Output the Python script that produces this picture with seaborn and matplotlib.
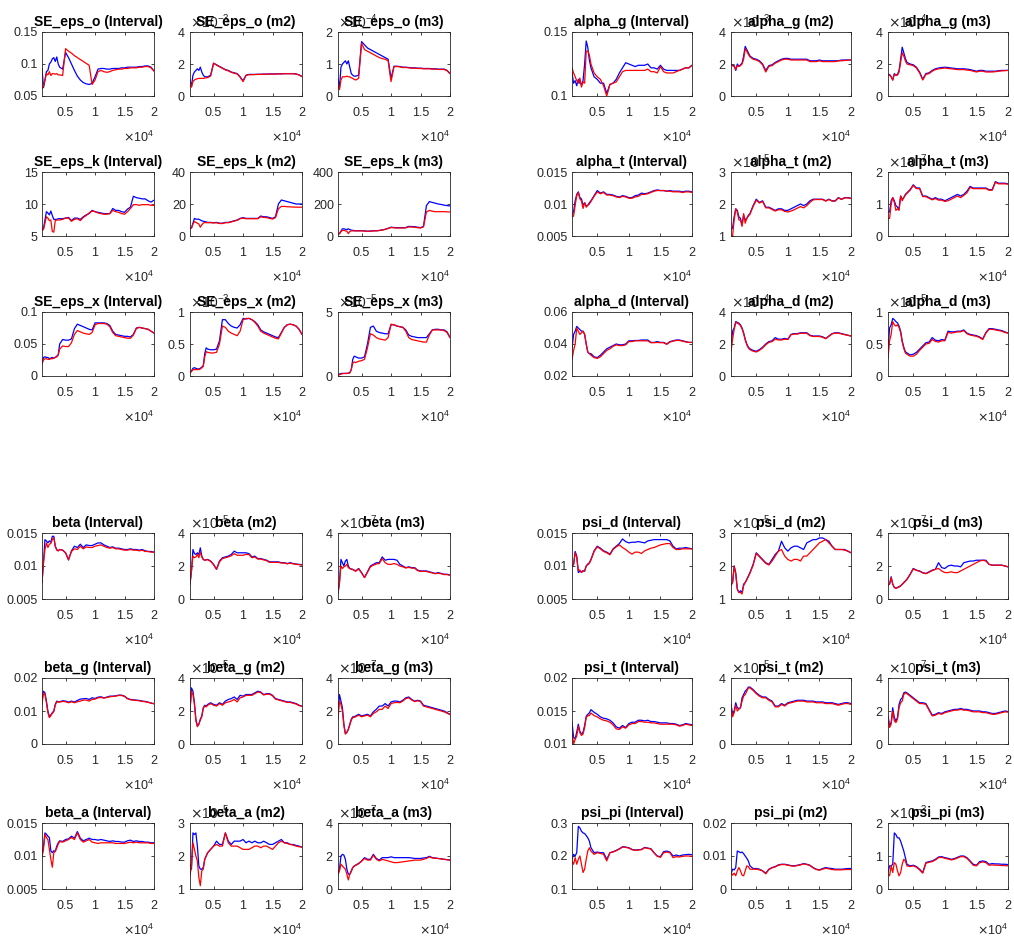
import re
import numpy as np
import pandas as pd
import matplotlib
matplotlib.use("Agg")
import matplotlib.pyplot as plt
import matplotlib.ticker as mticker
import seaborn as sns

# ---------------------------------------------------------------------------
# MCMC convergence diagnostics (Brooks & Gelman): pooled draws vs. within chains
# ---------------------------------------------------------------------------
draws = [1000, 1250, 1500, 1750, 2000, 2250, 2500, 2750, 3000, 3250, 3500, 3750, 4000,
         4500, 5000, 5500, 6000, 6500, 7000, 7500, 8000, 8500, 9000, 9500, 10000, 10500, 11000, 11500, 12000,
         12500, 13000, 13500, 14000, 14500, 15000, 15500, 16000, 16500, 17000, 17500, 18000, 18500, 19000, 19500, 20000]

# ---- SE_eps_o ----
se_eps_o_interval_pooled = [0.093, 0.063, 0.075, 0.088, 0.090, 0.100, 0.103, 0.108, 0.110, 0.104, 0.111, 0.100, 0.095,
    0.092, 0.118, 0.110, 0.100, 0.090, 0.081, 0.075, 0.071, 0.069, 0.068, 0.070, 0.080, 0.092, 0.093, 0.093, 0.092,
    0.092, 0.093, 0.093, 0.093, 0.094, 0.094, 0.095, 0.095, 0.095, 0.095, 0.096, 0.096, 0.097, 0.097, 0.095, 0.089]
se_eps_o_interval_within = [0.062, 0.065, 0.075, 0.085, 0.083, 0.088, 0.082, 0.085, 0.085, 0.084, 0.085, 0.083, 0.083,
    0.082, 0.124, 0.120, 0.117, 0.113, 0.110, 0.107, 0.104, 0.101, 0.098, 0.068, 0.075, 0.088, 0.090, 0.088, 0.087,
    0.088, 0.090, 0.091, 0.092, 0.092, 0.093, 0.093, 0.094, 0.094, 0.094, 0.095, 0.095, 0.096, 0.096, 0.094, 0.089]
se_eps_o_m2_pooled = [1.0, 0.6, 1.3, 1.5, 1.6, 1.7, 1.6, 1.8, 1.5, 1.3, 1.2, 1.2, 1.2,
    1.3, 2.05, 1.95, 1.85, 1.75, 1.65, 1.6, 1.5, 1.45, 1.4, 1.2, 0.95, 1.3, 1.35, 1.35, 1.35,
    1.36, 1.36, 1.37, 1.37, 1.38, 1.38, 1.38, 1.39, 1.39, 1.4, 1.4, 1.4, 1.4, 1.38, 1.32, 1.22]
se_eps_o_m2_within = [0.9, 0.55, 0.9, 1.0, 1.05, 1.08, 1.1, 1.1, 1.1, 1.1, 1.12, 1.14, 1.15,
    1.25, 2.05, 1.93, 1.83, 1.73, 1.63, 1.57, 1.48, 1.42, 1.38, 1.18, 0.9, 1.28, 1.33, 1.33, 1.34,
    1.35, 1.35, 1.36, 1.36, 1.37, 1.37, 1.37, 1.38, 1.38, 1.39, 1.39, 1.39, 1.39, 1.37, 1.31, 1.21]
se_eps_o_m3_pooled = [0.55, 0.25, 0.9, 1.0, 1.05, 1.1, 1.0, 1.1, 0.9, 0.7, 0.65, 0.62, 0.62,
    0.65, 1.7, 1.6, 1.5, 1.45, 1.4, 1.35, 1.3, 1.25, 1.2, 1.15, 0.55, 0.93, 0.93, 0.92, 0.9,
    0.9, 0.89, 0.88, 0.88, 0.87, 0.87, 0.86, 0.86, 0.86, 0.85, 0.85, 0.84, 0.84, 0.84, 0.8, 0.7]
se_eps_o_m3_within = [0.35, 0.2, 0.5, 0.6, 0.6, 0.6, 0.62, 0.6, 0.6, 0.57, 0.55, 0.52, 0.5,
    0.55, 1.65, 1.45, 1.4, 1.35, 1.3, 1.25, 1.2, 1.17, 1.15, 1.1, 0.45, 0.92, 0.92, 0.91, 0.89,
    0.89, 0.88, 0.87, 0.87, 0.86, 0.86, 0.85, 0.85, 0.85, 0.84, 0.84, 0.83, 0.83, 0.83, 0.79, 0.7]

# ---- SE_eps_k ----
se_eps_k_interval_pooled = [6.2, 6.2, 7.5, 8.8, 8.6, 8.3, 8.9, 8.2, 7.6, 7.6, 7.6, 7.7, 7.7,
    7.7, 7.8, 7.9, 7.4, 7.8, 7.8, 7.6, 8.0, 8.3, 8.5, 9.0, 8.8, 8.7, 8.6, 8.5, 8.5,
    8.5, 9.3, 9.0, 9.0, 8.8, 8.7, 9.2, 9.5, 11.2, 11.0, 10.9, 10.8, 10.8, 10.5, 10.3, 10.6]
se_eps_k_interval_within = [5.9, 6.0, 7.0, 8.0, 7.8, 7.4, 7.5, 5.7, 5.6, 7.4, 7.5, 7.5, 7.5,
    7.6, 7.8, 7.8, 7.3, 7.6, 7.7, 7.4, 7.9, 8.2, 8.6, 8.9, 8.8, 8.6, 8.5, 8.4, 8.4,
    8.5, 9.0, 8.8, 8.7, 8.5, 8.4, 8.8, 9.3, 9.9, 9.9, 9.8, 9.9, 9.9, 9.9, 9.8, 9.8]
se_eps_k_m2_pooled = [5, 5, 8, 11, 10.5, 10.5, 10.5, 10, 9.5, 9.2, 9, 8.8, 8.5,
    8.5, 8.3, 8.5, 8, 8, 8.5, 8.5, 9, 9.5, 10, 11, 11.5, 11, 11, 11, 11,
    11, 12.5, 12, 12, 11.5, 11, 12, 20, 22.5, 22, 21.5, 21, 20.5, 20, 20, 20]
se_eps_k_m2_within = [5, 5, 7.5, 9, 8.5, 8, 7.5, 5.5, 7, 8, 8.5, 8.3, 8.3,
    8.3, 8.2, 8.3, 7.8, 7.8, 8.3, 8.3, 8.8, 9.3, 9.8, 10.8, 11.2, 10.8, 10.8, 10.8, 10.8,
    10.8, 12, 11.6, 11.5, 11, 10.6, 11.5, 17, 18.5, 18.5, 18.3, 18.2, 18.1, 18, 18, 18]
se_eps_k_m3_pooled = [15, 15, 30, 45, 45, 42, 40, 45, 40, 37, 35, 34, 33,
    33, 33, 32, 30, 31, 33, 33, 35, 38, 42, 48, 55, 53, 52, 52, 52,
    53, 60, 59, 58, 55, 52, 60, 190, 215, 210, 205, 200, 197, 193, 190, 188]
se_eps_k_m3_within = [12, 14, 28, 35, 35, 32, 30, 15, 28, 32, 32, 32, 32,
    32, 32, 31, 29, 30, 32, 32, 34, 37, 41, 47, 53, 51, 50, 50, 50,
    51, 57, 56, 55, 52, 50, 57, 150, 160, 155, 152, 152, 152, 152, 151, 150]

# ---- SE_eps_x ----
se_eps_x_interval_pooled = [0.020, 0.029, 0.030, 0.029, 0.029, 0.027, 0.028, 0.029, 0.028, 0.029, 0.031, 0.033, 0.050,
    0.057, 0.056, 0.056, 0.058, 0.074, 0.081, 0.079, 0.077, 0.075, 0.073, 0.072, 0.083, 0.083, 0.083, 0.083, 0.082,
    0.079, 0.070, 0.065, 0.064, 0.063, 0.062, 0.062, 0.061, 0.065, 0.075, 0.076, 0.075, 0.074, 0.073, 0.070, 0.067]
se_eps_x_interval_within = [0.019, 0.025, 0.027, 0.027, 0.026, 0.026, 0.027, 0.027, 0.028, 0.029, 0.030, 0.033, 0.042,
    0.047, 0.046, 0.046, 0.052, 0.065, 0.071, 0.069, 0.067, 0.066, 0.065, 0.068, 0.080, 0.082, 0.082, 0.082, 0.081,
    0.077, 0.068, 0.063, 0.062, 0.061, 0.060, 0.059, 0.059, 0.064, 0.074, 0.076, 0.075, 0.074, 0.073, 0.070, 0.067]
se_eps_x_m2_pooled = [0.05, 0.08, 0.12, 0.13, 0.12, 0.11, 0.11, 0.12, 0.14, 0.16, 0.35, 0.44, 0.42,
    0.41, 0.41, 0.42, 0.55, 0.88, 0.88, 0.82, 0.78, 0.76, 0.75, 0.80, 0.90, 0.89, 0.90, 0.88, 0.85,
    0.80, 0.72, 0.69, 0.67, 0.65, 0.63, 0.61, 0.60, 0.68, 0.76, 0.80, 0.81, 0.80, 0.78, 0.73, 0.65]
se_eps_x_m2_within = [0.05, 0.07, 0.10, 0.10, 0.10, 0.10, 0.10, 0.11, 0.13, 0.15, 0.30, 0.38, 0.37,
    0.36, 0.36, 0.37, 0.50, 0.78, 0.76, 0.70, 0.67, 0.65, 0.63, 0.70, 0.88, 0.90, 0.90, 0.88, 0.84,
    0.78, 0.70, 0.67, 0.65, 0.63, 0.61, 0.59, 0.58, 0.67, 0.76, 0.80, 0.81, 0.80, 0.78, 0.73, 0.65]
se_eps_x_m3_pooled = [0.1, 0.15, 0.2, 0.2, 0.2, 0.2, 0.2, 0.22, 0.25, 0.5, 1.3, 1.55, 1.5,
    1.4, 1.4, 1.5, 2.5, 3.8, 3.9, 3.5, 3.4, 3.35, 3.3, 3.3, 4.0, 4.0, 3.9, 3.85, 3.8,
    3.6, 3.2, 3.1, 3.05, 3.0, 3.0, 3.0, 3.0, 3.3, 3.6, 3.65, 3.65, 3.6, 3.6, 3.45, 3.0]
se_eps_x_m3_within = [0.05, 0.1, 0.15, 0.18, 0.2, 0.2, 0.2, 0.22, 0.25, 0.5, 1.0, 1.1, 1.05,
    1.15, 1.2, 1.3, 2.2, 3.3, 3.2, 3.0, 2.9, 2.85, 2.8, 3.0, 4.05, 4.0, 3.9, 3.85, 3.8,
    3.5, 3.0, 2.85, 2.8, 2.75, 2.7, 2.65, 2.65, 3.2, 3.6, 3.6, 3.6, 3.6, 3.55, 3.4, 3.0]

# ---- alpha_g ----
alpha_g_interval_pooled = [0.118, 0.110, 0.112, 0.108, 0.113, 0.110, 0.109, 0.112, 0.125, 0.143, 0.138, 0.128, 0.122,
    0.115, 0.113, 0.110, 0.110, 0.102, 0.109, 0.110, 0.113, 0.118, 0.122, 0.126, 0.125, 0.124, 0.123, 0.124, 0.124,
    0.124, 0.125, 0.122, 0.122, 0.121, 0.124, 0.121, 0.120, 0.120, 0.120, 0.120, 0.120, 0.121, 0.122, 0.122, 0.124]
alpha_g_interval_within = [0.122, 0.118, 0.115, 0.112, 0.110, 0.114, 0.107, 0.111, 0.110, 0.135, 0.135, 0.132, 0.125,
    0.118, 0.115, 0.113, 0.108, 0.100, 0.109, 0.110, 0.111, 0.115, 0.119, 0.120, 0.120, 0.120, 0.120, 0.120, 0.120,
    0.120, 0.121, 0.119, 0.119, 0.118, 0.123, 0.119, 0.118, 0.118, 0.118, 0.119, 0.120, 0.121, 0.122, 0.122, 0.124]
alpha_g_m2_pooled = [1.95, 1.9, 1.9, 1.6, 2.0, 1.85, 1.95, 2.05, 2.5, 3.1, 2.9, 2.7, 2.5,
    2.35, 2.3, 2.2, 2.0, 1.6, 1.9, 1.95, 2.1, 2.2, 2.3, 2.35, 2.35, 2.3, 2.3, 2.3, 2.3,
    2.3, 2.3, 2.2, 2.2, 2.2, 2.25, 2.2, 2.2, 2.2, 2.2, 2.2, 2.2, 2.25, 2.25, 2.25, 2.25]
alpha_g_m2_within = [1.95, 1.9, 1.85, 1.65, 1.9, 1.85, 1.9, 2.0, 2.3, 2.95, 2.8, 2.6, 2.45,
    2.3, 2.25, 2.15, 1.95, 1.5, 1.85, 1.9, 2.05, 2.15, 2.25, 2.3, 2.3, 2.25, 2.25, 2.25, 2.25,
    2.25, 2.25, 2.15, 2.15, 2.15, 2.2, 2.15, 2.15, 2.15, 2.15, 2.15, 2.2, 2.2, 2.22, 2.23, 2.25]
alpha_g_m3_pooled = [1.3, 1.35, 1.2, 1.0, 1.4, 1.3, 1.35, 1.6, 2.3, 3.05, 2.7, 2.35, 2.1,
    2.0, 1.95, 1.8, 1.5, 1.05, 1.4, 1.45, 1.6, 1.7, 1.75, 1.78, 1.8, 1.78, 1.75, 1.73, 1.7,
    1.7, 1.7, 1.68, 1.65, 1.6, 1.55, 1.6, 1.6, 1.55, 1.55, 1.55, 1.55, 1.58, 1.6, 1.6, 1.6]
alpha_g_m3_within = [1.35, 1.3, 1.2, 1.0, 1.35, 1.3, 1.3, 1.5, 2.1, 2.7, 2.5, 2.2, 2.0,
    1.95, 1.9, 1.75, 1.45, 1.0, 1.35, 1.4, 1.55, 1.65, 1.7, 1.72, 1.75, 1.72, 1.7, 1.68, 1.65,
    1.65, 1.65, 1.62, 1.6, 1.55, 1.5, 1.55, 1.55, 1.5, 1.5, 1.5, 1.52, 1.55, 1.57, 1.58, 1.6]

# ---- alpha_t ----
alpha_t_interval_pooled = [0.0083, 0.0088, 0.0105, 0.0115, 0.0119, 0.0110, 0.0108, 0.0098, 0.0102, 0.0097, 0.0098, 0.0102, 0.0105,
    0.0113, 0.0121, 0.0117, 0.0119, 0.0115, 0.0115, 0.0114, 0.0112, 0.0111, 0.0113, 0.0112, 0.0110, 0.0110, 0.0113, 0.0114, 0.0117,
    0.0116, 0.0117, 0.0119, 0.0121, 0.0122, 0.0121, 0.0121, 0.0120, 0.0121, 0.0120, 0.0120, 0.0120, 0.0119, 0.0120, 0.0120, 0.0119]
alpha_t_interval_within = [0.0080, 0.0081, 0.0098, 0.0113, 0.0118, 0.0108, 0.0105, 0.0093, 0.0102, 0.0095, 0.0098, 0.0100, 0.0104,
    0.0112, 0.0119, 0.0116, 0.0118, 0.0114, 0.0114, 0.0113, 0.0111, 0.0110, 0.0112, 0.0111, 0.0109, 0.0109, 0.0111, 0.0112, 0.0115,
    0.0115, 0.0116, 0.0118, 0.0120, 0.0121, 0.0121, 0.0121, 0.0120, 0.0120, 0.0119, 0.0119, 0.0119, 0.0118, 0.0119, 0.0119, 0.0118]
alpha_t_m2_pooled = [1.2, 1.25, 1.6, 1.85, 1.8, 1.6, 1.55, 1.35, 1.65, 1.5, 1.55, 1.65, 1.7,
    1.95, 2.15, 2.05, 2.1, 1.9, 1.9, 1.85, 1.8, 1.85, 1.85, 1.8, 1.8, 1.85, 1.9, 1.95, 2.0,
    1.95, 2.0, 2.1, 2.15, 2.15, 2.15, 2.15, 2.1, 2.15, 2.1, 2.1, 2.2, 2.15, 2.2, 2.2, 2.18]
alpha_t_m2_within = [1.0, 1.0, 1.5, 1.85, 1.75, 1.5, 1.5, 1.3, 1.7, 1.4, 1.55, 1.62, 1.68,
    1.92, 2.12, 2.03, 2.08, 1.88, 1.88, 1.83, 1.78, 1.82, 1.82, 1.77, 1.75, 1.78, 1.82, 1.87, 1.92,
    1.88, 1.95, 2.05, 2.13, 2.14, 2.14, 2.14, 2.09, 2.14, 2.09, 2.09, 2.19, 2.14, 2.19, 2.19, 2.17]
alpha_t_m3_pooled = [0.75, 0.75, 1.1, 1.2, 1.1, 0.95, 0.9, 0.85, 1.25, 1.15, 1.2, 1.3, 1.35,
    1.45, 1.6, 1.5, 1.5, 1.25, 1.25, 1.2, 1.15, 1.2, 1.15, 1.15, 1.1, 1.15, 1.2, 1.25, 1.3,
    1.25, 1.3, 1.4, 1.55, 1.5, 1.5, 1.5, 1.5, 1.5, 1.45, 1.45, 1.7, 1.65, 1.65, 1.65, 1.63]
alpha_t_m3_within = [0.55, 0.55, 1.0, 1.2, 1.05, 0.8, 0.85, 0.8, 1.25, 1.1, 1.2, 1.28, 1.33,
    1.43, 1.58, 1.48, 1.48, 1.23, 1.23, 1.18, 1.13, 1.17, 1.12, 1.12, 1.08, 1.1, 1.15, 1.2, 1.25,
    1.2, 1.27, 1.35, 1.52, 1.48, 1.48, 1.48, 1.48, 1.48, 1.43, 1.43, 1.68, 1.63, 1.63, 1.63, 1.62]

# ---- alpha_d ----
alpha_d_interval_pooled = [0.037, 0.046, 0.048, 0.051, 0.050, 0.049, 0.048, 0.048, 0.046, 0.040, 0.035, 0.034, 0.034,
    0.032, 0.0315, 0.033, 0.035, 0.037, 0.038, 0.039, 0.040, 0.0395, 0.0395, 0.040, 0.042, 0.042, 0.0422, 0.0422, 0.0425,
    0.0425, 0.0425, 0.041, 0.041, 0.0415, 0.041, 0.041, 0.040, 0.0415, 0.042, 0.0425, 0.0425, 0.042, 0.0415, 0.041, 0.041]
alpha_d_interval_within = [0.030, 0.036, 0.040, 0.050, 0.048, 0.046, 0.047, 0.048, 0.046, 0.040, 0.035, 0.034, 0.033,
    0.0315, 0.031, 0.032, 0.034, 0.036, 0.037, 0.0385, 0.0395, 0.039, 0.039, 0.0395, 0.0415, 0.0415, 0.042, 0.042, 0.042,
    0.042, 0.042, 0.0408, 0.0408, 0.041, 0.0408, 0.0408, 0.0398, 0.0412, 0.0418, 0.0422, 0.0422, 0.0418, 0.0413, 0.041, 0.041]
alpha_d_m2_pooled = [1.8, 2.8, 3.0, 3.4, 3.35, 3.3, 3.2, 3.0, 2.7, 2.3, 2.0, 1.8, 1.7,
    1.6, 1.55, 1.65, 1.8, 2.0, 2.15, 2.2, 2.4, 2.3, 2.3, 2.35, 2.3, 2.6, 2.65, 2.65, 2.7,
    2.7, 2.7, 2.55, 2.5, 2.5, 2.5, 2.45, 2.35, 2.5, 2.65, 2.7, 2.7, 2.65, 2.6, 2.55, 2.5]
alpha_d_m2_within = [1.5, 2.3, 2.9, 3.35, 3.3, 3.25, 3.15, 2.95, 2.65, 2.25, 1.95, 1.75, 1.65,
    1.55, 1.5, 1.6, 1.75, 1.95, 2.1, 2.15, 2.3, 2.25, 2.25, 2.3, 2.28, 2.58, 2.62, 2.62, 2.67,
    2.67, 2.67, 2.52, 2.47, 2.47, 2.47, 2.42, 2.33, 2.48, 2.63, 2.68, 2.68, 2.63, 2.58, 2.54, 2.5]
alpha_d_m3_pooled = [0.4, 0.75, 0.8, 0.9, 0.88, 0.85, 0.83, 0.78, 0.7, 0.55, 0.45, 0.38, 0.36,
    0.33, 0.34, 0.37, 0.42, 0.47, 0.52, 0.53, 0.6, 0.56, 0.55, 0.57, 0.56, 0.7, 0.69, 0.69, 0.7,
    0.7, 0.72, 0.67, 0.65, 0.64, 0.63, 0.61, 0.58, 0.68, 0.74, 0.74, 0.73, 0.72, 0.71, 0.69, 0.67]
alpha_d_m3_within = [0.27, 0.55, 0.65, 0.85, 0.8, 0.78, 0.8, 0.76, 0.68, 0.53, 0.43, 0.36, 0.34,
    0.31, 0.31, 0.34, 0.4, 0.45, 0.5, 0.51, 0.57, 0.54, 0.53, 0.55, 0.55, 0.68, 0.67, 0.68, 0.69,
    0.69, 0.71, 0.66, 0.64, 0.63, 0.62, 0.6, 0.57, 0.67, 0.73, 0.73, 0.72, 0.71, 0.7, 0.68, 0.67]

# ---- beta ----
beta_interval_pooled = [0.0075, 0.0105, 0.0140, 0.0138, 0.0135, 0.0138, 0.0136, 0.0145, 0.0145, 0.0130, 0.0125, 0.0123, 0.0125,
    0.0124, 0.0120, 0.0109, 0.0123, 0.0130, 0.0128, 0.0133, 0.0128, 0.0132, 0.0131, 0.0131, 0.0133, 0.0135, 0.0135, 0.0132, 0.0130,
    0.0128, 0.0129, 0.0127, 0.0127, 0.0126, 0.0125, 0.0125, 0.0126, 0.0125, 0.0125, 0.0124, 0.0125, 0.0123, 0.0122, 0.0122, 0.0121]
beta_interval_within = [0.0075, 0.0105, 0.0125, 0.0135, 0.0128, 0.0133, 0.0134, 0.0140, 0.0143, 0.0130, 0.0124, 0.0123, 0.0125,
    0.0124, 0.0120, 0.0110, 0.0122, 0.0126, 0.0125, 0.0130, 0.0126, 0.0129, 0.0128, 0.0128, 0.0130, 0.0131, 0.0132, 0.0130, 0.0128,
    0.0127, 0.0128, 0.0126, 0.0126, 0.0125, 0.0124, 0.0124, 0.0125, 0.0124, 0.0124, 0.0123, 0.0124, 0.0122, 0.0122, 0.0121, 0.0121]
beta_m2_pooled = [0.9, 1.7, 3.0, 2.75, 2.7, 2.8, 2.7, 3.1, 2.6, 2.4, 2.35, 2.38, 2.4,
    2.3, 2.1, 1.8, 2.3, 2.5, 2.55, 2.6, 2.7, 2.9, 2.8, 2.8, 2.8, 2.8, 2.75, 2.55, 2.6,
    2.45, 2.45, 2.4, 2.35, 2.25, 2.25, 2.25, 2.25, 2.2, 2.2, 2.15, 2.2, 2.15, 2.12, 2.1, 2.08]
beta_m2_within = [0.9, 1.7, 2.6, 2.5, 2.55, 2.7, 2.5, 2.85, 2.55, 2.4, 2.35, 2.37, 2.38,
    2.28, 2.08, 1.8, 2.25, 2.45, 2.5, 2.55, 2.62, 2.75, 2.65, 2.65, 2.65, 2.7, 2.7, 2.5, 2.55,
    2.42, 2.42, 2.37, 2.32, 2.22, 2.22, 2.22, 2.22, 2.18, 2.18, 2.13, 2.17, 2.13, 2.1, 2.08, 2.06]
beta_m3_pooled = [0.35, 1.0, 2.4, 2.2, 2.0, 2.3, 2.4, 2.0, 1.85, 1.82, 1.8, 1.75, 1.7,
    1.85, 1.6, 1.3, 1.65, 2.0, 2.1, 2.2, 2.2, 2.55, 2.35, 2.4, 2.4, 2.4, 2.35, 2.1, 2.0,
    1.9, 1.95, 1.9, 1.9, 1.75, 1.7, 1.7, 1.7, 1.65, 1.6, 1.55, 1.6, 1.55, 1.5, 1.5, 1.45]
beta_m3_within = [0.35, 1.0, 2.0, 1.85, 1.95, 2.0, 2.1, 1.9, 1.85, 1.8, 1.78, 1.73, 1.68,
    1.82, 1.58, 1.3, 1.62, 1.95, 2.05, 2.12, 2.15, 2.45, 2.2, 2.1, 2.1, 2.15, 2.1, 2.0, 1.95,
    1.88, 1.92, 1.87, 1.87, 1.72, 1.67, 1.68, 1.67, 1.62, 1.58, 1.53, 1.57, 1.53, 1.48, 1.48, 1.44]

# ---- beta_g ----
beta_g_interval_pooled = [0.0130, 0.0160, 0.0155, 0.0130, 0.0100, 0.0083, 0.0088, 0.0095, 0.0100, 0.0120, 0.0130, 0.0128, 0.0128,
    0.0131, 0.0130, 0.0127, 0.0130, 0.0127, 0.0132, 0.0136, 0.0137, 0.0138, 0.0135, 0.0140, 0.0138, 0.0142, 0.0143, 0.0140, 0.0142,
    0.0145, 0.0145, 0.0146, 0.0148, 0.0148, 0.0145, 0.0138, 0.0135, 0.0134, 0.0133, 0.0132, 0.0130, 0.0129, 0.0127, 0.0124, 0.0122]
beta_g_interval_within = [0.0120, 0.0155, 0.0150, 0.0125, 0.0095, 0.0080, 0.0086, 0.0093, 0.0098, 0.0118, 0.0128, 0.0127, 0.0127,
    0.0129, 0.0128, 0.0125, 0.0128, 0.0125, 0.0128, 0.0130, 0.0133, 0.0133, 0.0130, 0.0135, 0.0136, 0.0140, 0.0141, 0.0139, 0.0141,
    0.0143, 0.0144, 0.0145, 0.0147, 0.0147, 0.0144, 0.0137, 0.0134, 0.0133, 0.0132, 0.0131, 0.0129, 0.0128, 0.0126, 0.0124, 0.0122]
beta_g_m2_pooled = [2.0, 3.4, 3.2, 2.5, 1.5, 1.1, 1.2, 1.5, 1.7, 2.2, 2.35, 2.3, 2.4,
    2.5, 2.4, 2.35, 2.5, 2.4, 2.6, 2.7, 2.75, 2.85, 2.7, 2.95, 2.9, 3.0, 3.0, 3.0, 3.1,
    3.2, 3.15, 3.0, 3.05, 3.05, 2.95, 2.75, 2.7, 2.65, 2.6, 2.55, 2.55, 2.5, 2.45, 2.35, 2.3]
beta_g_m2_within = [2.1, 3.2, 3.0, 2.4, 1.4, 1.05, 1.2, 1.45, 1.65, 2.15, 2.3, 2.25, 2.35,
    2.45, 2.35, 2.3, 2.45, 2.35, 2.5, 2.55, 2.6, 2.7, 2.55, 2.8, 2.85, 2.95, 2.95, 2.95, 3.05,
    3.15, 3.12, 2.97, 3.02, 3.02, 2.92, 2.72, 2.67, 2.62, 2.57, 2.52, 2.52, 2.47, 2.42, 2.33, 2.28]
beta_g_m3_pooled = [1.8, 3.0, 2.6, 2.2, 1.2, 0.65, 0.7, 0.9, 1.2, 1.5, 1.65, 1.65, 1.7,
    1.8, 1.7, 1.75, 1.8, 1.7, 1.95, 2.1, 2.3, 2.3, 2.45, 2.3, 2.55, 2.6, 2.6, 2.55, 2.65,
    2.8, 2.85, 2.7, 2.6, 2.65, 2.6, 2.35, 2.3, 2.25, 2.2, 2.15, 2.1, 2.05, 2.0, 1.9, 1.8]
beta_g_m3_within = [1.5, 2.6, 2.4, 2.0, 1.1, 0.6, 0.7, 0.88, 1.15, 1.45, 1.6, 1.62, 1.65,
    1.75, 1.65, 1.7, 1.75, 1.65, 1.85, 1.95, 2.1, 2.1, 2.3, 2.15, 2.45, 2.5, 2.52, 2.5, 2.6,
    2.75, 2.8, 2.67, 2.57, 2.62, 2.57, 2.3, 2.25, 2.2, 2.15, 2.1, 2.05, 2.0, 1.95, 1.87, 1.78]

# ---- beta_a ----
beta_a_interval_pooled = [0.0103, 0.0115, 0.0135, 0.0133, 0.0130, 0.0128, 0.0108, 0.0105, 0.0108, 0.0107, 0.0115, 0.0120, 0.0123,
    0.0122, 0.0125, 0.0126, 0.0130, 0.0127, 0.0137, 0.0127, 0.0123, 0.0125, 0.0127, 0.0125, 0.0125, 0.0124, 0.0125, 0.0124, 0.0123,
    0.0122, 0.0123, 0.0122, 0.0122, 0.0121, 0.0121, 0.0123, 0.0124, 0.0122, 0.0123, 0.0122, 0.0122, 0.0121, 0.0121, 0.0120, 0.0120]
beta_a_interval_within = [0.0098, 0.0110, 0.0133, 0.0128, 0.0125, 0.0110, 0.0095, 0.0083, 0.0105, 0.0107, 0.0112, 0.0118, 0.0122,
    0.0121, 0.0123, 0.0125, 0.0128, 0.0125, 0.0135, 0.0125, 0.0121, 0.0123, 0.0125, 0.0121, 0.0120, 0.0119, 0.0120, 0.0120, 0.0120,
    0.0120, 0.0120, 0.0119, 0.0119, 0.0119, 0.0119, 0.0120, 0.0121, 0.0120, 0.0121, 0.0120, 0.0120, 0.0120, 0.0120, 0.0119, 0.0119]
beta_a_m2_pooled = [1.75, 1.6, 2.7, 2.65, 2.7, 2.3, 1.7, 1.6, 1.6, 1.65, 1.9, 2.0, 2.1,
    2.2, 2.3, 2.45, 2.35, 2.35, 2.7, 2.45, 2.35, 2.45, 2.45, 2.45, 2.5, 2.4, 2.45, 2.4, 2.45,
    2.4, 2.4, 2.45, 2.4, 2.35, 2.35, 2.4, 2.45, 2.5, 2.4, 2.4, 2.35, 2.35, 2.32, 2.3, 2.27]
beta_a_m2_within = [1.4, 1.7, 2.4, 2.2, 2.0, 1.85, 1.35, 1.1, 1.55, 1.6, 1.9, 2.0, 2.1,
    2.2, 2.3, 2.35, 2.3, 2.3, 2.7, 2.4, 2.3, 2.3, 2.3, 2.25, 2.2, 2.2, 2.2, 2.25, 2.3,
    2.3, 2.25, 2.3, 2.3, 2.25, 2.2, 2.3, 2.4, 2.45, 2.4, 2.38, 2.35, 2.33, 2.3, 2.28, 2.27]
beta_a_m3_pooled = [1.0, 1.2, 2.0, 2.1, 2.05, 1.8, 1.2, 0.9, 0.9, 1.1, 1.3, 1.4, 1.45,
    1.55, 1.7, 1.9, 1.8, 1.8, 2.1, 1.85, 1.75, 1.9, 1.9, 1.9, 1.95, 1.9, 1.9, 1.9, 1.9,
    1.9, 1.9, 1.88, 1.85, 1.85, 1.85, 1.88, 1.9, 1.98, 1.9, 1.88, 1.85, 1.83, 1.8, 1.78, 1.75]
beta_a_m3_within = [0.85, 1.1, 1.5, 1.4, 1.3, 1.2, 0.9, 0.55, 0.9, 1.05, 1.3, 1.38, 1.43,
    1.53, 1.68, 1.85, 1.75, 1.75, 2.05, 1.8, 1.7, 1.8, 1.75, 1.7, 1.65, 1.6, 1.6, 1.62, 1.65,
    1.67, 1.7, 1.72, 1.75, 1.75, 1.75, 1.8, 1.85, 1.95, 1.88, 1.86, 1.85, 1.82, 1.8, 1.77, 1.75]

# ---- psi_d ----
psi_d_interval_pooled = [0.0100, 0.0102, 0.0122, 0.0115, 0.0090, 0.0092, 0.0091, 0.0093, 0.0092, 0.0100, 0.0103, 0.0105, 0.0110,
    0.0123, 0.0130, 0.0127, 0.0123, 0.0121, 0.0118, 0.0126, 0.0130, 0.0134, 0.0141, 0.0137, 0.0135, 0.0136, 0.0136, 0.0137, 0.0136,
    0.0135, 0.0138, 0.0139, 0.0140, 0.0140, 0.0140, 0.0140, 0.0140, 0.0138, 0.0130, 0.0126, 0.0127, 0.0127, 0.0128, 0.0127, 0.0126]
psi_d_interval_within = [0.0100, 0.0103, 0.0120, 0.0113, 0.0093, 0.0094, 0.0090, 0.0092, 0.0093, 0.0100, 0.0102, 0.0104, 0.0109,
    0.0122, 0.0129, 0.0126, 0.0122, 0.0120, 0.0117, 0.0125, 0.0129, 0.0132, 0.0128, 0.0125, 0.0121, 0.0118, 0.0121, 0.0121, 0.0119,
    0.0123, 0.0125, 0.0127, 0.0128, 0.0130, 0.0132, 0.0133, 0.0134, 0.0134, 0.0128, 0.0125, 0.0125, 0.0126, 0.0126, 0.0126, 0.0126]
psi_d_m2_pooled = [1.45, 1.5, 2.0, 1.8, 1.3, 1.2, 1.25, 1.2, 1.45, 1.5, 1.6, 1.7, 1.8,
    2.05, 2.4, 2.3, 2.2, 2.1, 2.05, 2.2, 2.35, 2.45, 2.75, 2.55, 2.45, 2.55, 2.6, 2.6, 2.55,
    2.5, 2.7, 2.75, 2.8, 2.8, 2.85, 2.85, 2.8, 2.75, 2.6, 2.5, 2.5, 2.5, 2.5, 2.45, 2.4]
psi_d_m2_within = [1.4, 1.5, 2.0, 1.75, 1.3, 1.2, 1.2, 1.15, 1.4, 1.5, 1.58, 1.68, 1.78,
    2.02, 2.38, 2.28, 2.18, 2.08, 2.03, 2.15, 2.3, 2.45, 2.5, 2.3, 2.2, 2.15, 2.2, 2.2, 2.15,
    2.3, 2.3, 2.4, 2.5, 2.6, 2.7, 2.75, 2.8, 2.7, 2.6, 2.5, 2.5, 2.5, 2.48, 2.45, 2.4]
psi_d_m3_pooled = [0.85, 0.9, 1.35, 0.9, 0.7, 0.65, 0.7, 0.75, 0.8, 0.9, 1.0, 1.1, 1.2,
    1.5, 1.85, 1.75, 1.7, 1.6, 1.55, 1.65, 1.75, 1.8, 2.2, 1.9, 1.85, 2.0, 2.05, 2.0, 2.0,
    1.95, 2.2, 2.25, 2.3, 2.3, 2.35, 2.35, 2.35, 2.35, 2.1, 2.05, 2.05, 2.05, 2.05, 2.0, 1.95]
psi_d_m3_within = [0.85, 0.9, 1.3, 0.9, 0.7, 0.65, 0.68, 0.72, 0.8, 0.88, 0.98, 1.08, 1.18,
    1.48, 1.83, 1.73, 1.68, 1.58, 1.53, 1.62, 1.72, 1.8, 1.85, 1.7, 1.6, 1.6, 1.65, 1.6, 1.6,
    1.7, 1.8, 1.9, 2.0, 2.1, 2.2, 2.3, 2.35, 2.3, 2.1, 2.05, 2.05, 2.05, 2.05, 2.0, 1.95]

# ---- psi_t ----
psi_t_interval_pooled = [0.0133, 0.0110, 0.0108, 0.0118, 0.0130, 0.0119, 0.0115, 0.0118, 0.0128, 0.0142, 0.0145, 0.0147, 0.0152,
    0.0148, 0.0145, 0.0141, 0.0139, 0.0138, 0.0136, 0.0132, 0.0126, 0.0124, 0.0128, 0.0125, 0.0131, 0.0133, 0.0133, 0.0136, 0.0136,
    0.0135, 0.0136, 0.0134, 0.0134, 0.0133, 0.0132, 0.0132, 0.0132, 0.0131, 0.0131, 0.0130, 0.0128, 0.0129, 0.0131, 0.0130, 0.0129]
psi_t_interval_within = [0.0120, 0.0100, 0.0107, 0.0112, 0.0127, 0.0117, 0.0113, 0.0115, 0.0125, 0.0140, 0.0143, 0.0143, 0.0147,
    0.0143, 0.0141, 0.0138, 0.0136, 0.0135, 0.0133, 0.0129, 0.0123, 0.0122, 0.0126, 0.0124, 0.0129, 0.0131, 0.0131, 0.0134, 0.0134,
    0.0133, 0.0133, 0.0132, 0.0132, 0.0131, 0.0130, 0.0130, 0.0130, 0.0130, 0.0130, 0.0129, 0.0127, 0.0128, 0.0130, 0.0129, 0.0128]
psi_t_m2_pooled = [2.4, 1.75, 2.0, 2.5, 2.2, 2.15, 2.2, 2.8, 3.0, 3.2, 3.3, 3.45, 3.45,
    3.3, 3.1, 2.95, 2.85, 2.85, 2.7, 2.6, 2.3, 2.3, 2.45, 2.35, 2.5, 2.55, 2.6, 2.65, 2.65,
    2.65, 2.6, 2.6, 2.6, 2.55, 2.55, 2.55, 2.5, 2.5, 2.5, 2.45, 2.4, 2.45, 2.5, 2.5, 2.45]
psi_t_m2_within = [2.4, 1.65, 1.9, 2.35, 2.0, 2.1, 2.2, 2.6, 2.9, 3.0, 3.2, 3.4, 3.4,
    3.25, 3.05, 2.9, 2.8, 2.8, 2.65, 2.55, 2.25, 2.25, 2.4, 2.3, 2.45, 2.5, 2.55, 2.6, 2.6,
    2.6, 2.55, 2.55, 2.55, 2.5, 2.5, 2.5, 2.45, 2.45, 2.45, 2.4, 2.35, 2.4, 2.45, 2.45, 2.4]
psi_t_m3_pooled = [1.7, 1.1, 1.3, 2.2, 1.6, 1.4, 1.6, 2.4, 2.7, 2.8, 3.1, 3.15, 3.1,
    2.95, 2.8, 2.65, 2.5, 2.5, 2.45, 2.1, 1.75, 1.8, 1.9, 1.85, 1.95, 2.0, 2.05, 2.1, 2.1,
    2.15, 2.1, 2.1, 2.05, 2.0, 2.0, 2.0, 1.95, 1.95, 1.9, 1.85, 1.85, 1.9, 1.95, 2.0, 1.97]
psi_t_m3_within = [1.65, 1.0, 1.2, 2.0, 1.4, 1.3, 1.5, 2.2, 2.5, 2.6, 3.0, 3.1, 3.05,
    2.9, 2.75, 2.6, 2.45, 2.45, 2.4, 2.05, 1.7, 1.75, 1.85, 1.8, 1.9, 1.95, 2.0, 2.05, 2.05,
    2.1, 2.05, 2.05, 2.0, 1.95, 1.95, 1.95, 1.9, 1.9, 1.85, 1.8, 1.8, 1.85, 1.9, 1.95, 1.93]

# ---- psi_pi ----
psi_pi_interval_pooled = [0.190, 0.205, 0.200, 0.210, 0.290, 0.285, 0.275, 0.270, 0.268, 0.262, 0.255, 0.245, 0.225,
    0.210, 0.212, 0.210, 0.210, 0.190, 0.210, 0.213, 0.217, 0.222, 0.228, 0.227, 0.225, 0.220, 0.218, 0.219, 0.220,
    0.226, 0.224, 0.222, 0.210, 0.200, 0.198, 0.213, 0.215, 0.212, 0.200, 0.203, 0.200, 0.203, 0.204, 0.205, 0.204]
psi_pi_interval_within = [0.185, 0.175, 0.195, 0.175, 0.190, 0.200, 0.175, 0.150, 0.160, 0.190, 0.215, 0.225, 0.215,
    0.205, 0.210, 0.208, 0.205, 0.185, 0.210, 0.212, 0.216, 0.221, 0.227, 0.226, 0.224, 0.219, 0.217, 0.218, 0.219,
    0.225, 0.223, 0.221, 0.209, 0.199, 0.196, 0.210, 0.212, 0.210, 0.195, 0.198, 0.197, 0.199, 0.200, 0.200, 0.199]
psi_pi_m2_pooled = [0.0045, 0.0060, 0.0058, 0.0065, 0.0115, 0.0113, 0.0110, 0.0112, 0.0107, 0.0100, 0.0093, 0.0085, 0.0070,
    0.0062, 0.0062, 0.0060, 0.0055, 0.0048, 0.0060, 0.0065, 0.0068, 0.0073, 0.0075, 0.0075, 0.0073, 0.0071, 0.0070, 0.0072, 0.0074,
    0.0077, 0.0075, 0.0072, 0.0065, 0.0060, 0.0058, 0.0062, 0.0065, 0.0063, 0.0062, 0.0060, 0.0060, 0.0060, 0.0061, 0.0062, 0.0062]
psi_pi_m2_within = [0.0050, 0.0042, 0.0048, 0.0040, 0.0055, 0.0065, 0.0055, 0.0042, 0.0040, 0.0055, 0.0070, 0.0068, 0.0060,
    0.0060, 0.0060, 0.0058, 0.0055, 0.0046, 0.0059, 0.0064, 0.0067, 0.0072, 0.0074, 0.0074, 0.0072, 0.0070, 0.0069, 0.0071, 0.0073,
    0.0076, 0.0074, 0.0071, 0.0064, 0.0059, 0.0057, 0.0060, 0.0063, 0.0061, 0.0059, 0.0058, 0.0058, 0.0058, 0.0059, 0.0059, 0.0059]
psi_pi_m3_pooled = [0.50, 0.70, 0.70, 0.75, 1.70, 1.65, 1.55, 1.55, 1.45, 1.30, 1.15, 0.95, 0.75,
    0.70, 0.72, 0.68, 0.60, 0.50, 0.80, 0.83, 0.85, 0.90, 0.97, 0.98, 0.95, 0.93, 0.90, 0.92, 0.96,
    1.00, 1.00, 0.95, 0.85, 0.75, 0.72, 0.83, 0.85, 0.83, 0.75, 0.77, 0.76, 0.76, 0.75, 0.75, 0.74]
psi_pi_m3_within = [0.45, 0.40, 0.70, 0.50, 0.80, 0.75, 0.55, 0.40, 0.50, 0.75, 0.90, 0.85, 0.70,
    0.68, 0.70, 0.66, 0.58, 0.48, 0.78, 0.81, 0.83, 0.88, 0.95, 0.96, 0.93, 0.91, 0.88, 0.90, 0.94,
    0.98, 0.98, 0.93, 0.83, 0.72, 0.70, 0.80, 0.82, 0.80, 0.72, 0.73, 0.72, 0.72, 0.71, 0.71, 0.70]

# Panel table: title, pooled, within, power of ten of the stored values, y ticks (stored units)
panels = {
    "top_left": [
        ("SE_eps_o (Interval)", se_eps_o_interval_pooled, se_eps_o_interval_within, 0, [0.05, 0.1, 0.15]),
        ("SE_eps_o (m2)", se_eps_o_m2_pooled, se_eps_o_m2_within, -3, [0, 2, 4]),
        ("SE_eps_o (m3)", se_eps_o_m3_pooled, se_eps_o_m3_within, -4, [0, 1, 2]),
        ("SE_eps_k (Interval)", se_eps_k_interval_pooled, se_eps_k_interval_within, 0, [5, 10, 15]),
        ("SE_eps_k (m2)", se_eps_k_m2_pooled, se_eps_k_m2_within, 0, [0, 20, 40]),
        ("SE_eps_k (m3)", se_eps_k_m3_pooled, se_eps_k_m3_within, 0, [0, 200, 400]),
        ("SE_eps_x (Interval)", se_eps_x_interval_pooled, se_eps_x_interval_within, 0, [0, 0.05, 0.1]),
        ("SE_eps_x (m2)", se_eps_x_m2_pooled, se_eps_x_m2_within, -3, [0, 0.5, 1]),
        ("SE_eps_x (m3)", se_eps_x_m3_pooled, se_eps_x_m3_within, -5, [0, 5]),
    ],
    "top_right": [
        ("alpha_g (Interval)", alpha_g_interval_pooled, alpha_g_interval_within, 0, [0.1, 0.15]),
        ("alpha_g (m2)", alpha_g_m2_pooled, alpha_g_m2_within, -3, [0, 2, 4]),
        ("alpha_g (m3)", alpha_g_m3_pooled, alpha_g_m3_within, -4, [0, 2, 4]),
        ("alpha_t (Interval)", alpha_t_interval_pooled, alpha_t_interval_within, 0, [0.005, 0.01, 0.015]),
        ("alpha_t (m2)", alpha_t_m2_pooled, alpha_t_m2_within, -5, [1, 2, 3]),
        ("alpha_t (m3)", alpha_t_m3_pooled, alpha_t_m3_within, -7, [0, 1, 2]),
        ("alpha_d (Interval)", alpha_d_interval_pooled, alpha_d_interval_within, 0, [0.02, 0.04, 0.06]),
        ("alpha_d (m2)", alpha_d_m2_pooled, alpha_d_m2_within, -4, [0, 2, 4]),
        ("alpha_d (m3)", alpha_d_m3_pooled, alpha_d_m3_within, -5, [0, 0.5, 1]),
    ],
    "bottom_left": [
        ("beta (Interval)", beta_interval_pooled, beta_interval_within, 0, [0.005, 0.01, 0.015]),
        ("beta (m2)", beta_m2_pooled, beta_m2_within, -5, [0, 2, 4]),
        ("beta (m3)", beta_m3_pooled, beta_m3_within, -7, [0, 2, 4]),
        ("beta_g (Interval)", beta_g_interval_pooled, beta_g_interval_within, 0, [0, 0.01, 0.02]),
        ("beta_g (m2)", beta_g_m2_pooled, beta_g_m2_within, -5, [0, 2, 4]),
        ("beta_g (m3)", beta_g_m3_pooled, beta_g_m3_within, -7, [0, 2, 4]),
        ("beta_a (Interval)", beta_a_interval_pooled, beta_a_interval_within, 0, [0.005, 0.01, 0.015]),
        ("beta_a (m2)", beta_a_m2_pooled, beta_a_m2_within, -5, [1, 2, 3]),
        ("beta_a (m3)", beta_a_m3_pooled, beta_a_m3_within, -7, [0, 2, 4]),
    ],
    "bottom_right": [
        ("psi_d (Interval)", psi_d_interval_pooled, psi_d_interval_within, 0, [0.005, 0.01, 0.015]),
        ("psi_d (m2)", psi_d_m2_pooled, psi_d_m2_within, -5, [1, 2, 3]),
        ("psi_d (m3)", psi_d_m3_pooled, psi_d_m3_within, -7, [0, 2, 4]),
        ("psi_t (Interval)", psi_t_interval_pooled, psi_t_interval_within, 0, [0.01, 0.015, 0.02]),
        ("psi_t (m2)", psi_t_m2_pooled, psi_t_m2_within, -5, [0, 2, 4]),
        ("psi_t (m3)", psi_t_m3_pooled, psi_t_m3_within, -7, [0, 2, 4]),
        ("psi_pi (Interval)", psi_pi_interval_pooled, psi_pi_interval_within, 0, [0.1, 0.2, 0.3]),
        ("psi_pi (m2)", psi_pi_m2_pooled, psi_pi_m2_within, 0, [0, 0.01, 0.02]),
        ("psi_pi (m3)", psi_pi_m3_pooled, psi_pi_m3_within, -3, [0, 1, 2]),
    ],
}
x_ticks = [5000, 10000, 15000, 20000]

# ---------------------------------------------------------------------------
# Layout (pixel geometry of the 4 blocks of 3x3 axes)
# ---------------------------------------------------------------------------
FIG_W, FIG_H = 1014, 941
COLS = {"left": ([42, 190, 338], 112), "right": ([572, 731, 888], 120)}
ROWS = {"top": ([32, 172, 312], 64), "bottom": ([533, 678, 823], 66)}
BLOCKS = {"top_left": ("top", "left"), "top_right": ("top", "right"),
          "bottom_left": ("bottom", "left"), "bottom_right": ("bottom", "right")}

INK = "#262626"
sns.set_theme(style="white")
plt.rcParams["font.family"] = ["Liberation Sans", "DejaVu Sans"]
plt.rcParams.update({
    "axes.edgecolor": INK, "axes.linewidth": 0.6,
    "xtick.color": INK, "ytick.color": INK,
    "xtick.labelcolor": INK, "ytick.labelcolor": INK,
})


class TrimmedFormatter(mticker.ScalarFormatter):
    """ScalarFormatter without trailing zeros (0.010 -> 0.01, 1.0 -> 1)."""
    def __call__(self, x, pos=None):
        s = super().__call__(x, pos)
        s = re.sub(r"(\.\d*?)0+(?!\d)", r"\1", s)
        s = re.sub(r"\.(?!\d)", "", s)
        return s


def x_label(v, pos=None):
    return f"{v / 1e4:g}"


fig = plt.figure(figsize=(FIG_W / 100, FIG_H / 100), dpi=100)
fig.patch.set_facecolor("white")

for block, specs in panels.items():
    row_key, col_key = BLOCKS[block]
    row_tops, h = ROWS[row_key]
    col_lefts, w = COLS[col_key]
    for k, (title, pooled, within, power, yt) in enumerate(specs):
        r, c = divmod(k, 3)
        left, top = col_lefts[c], row_tops[r]
        ax = fig.add_axes([left / FIG_W, 1 - (top + h) / FIG_H, w / FIG_W, h / FIG_H])

        scale = 10.0 ** power
        df = pd.DataFrame({
            "draw": draws * 2,
            "value": list(np.array(pooled) * scale) + list(np.array(within) * scale),
            "series": ["pooled"] * len(draws) + ["within"] * len(draws),
        })
        sns.lineplot(data=df, x="draw", y="value", hue="series",
                     palette={"pooled": "#0000ff", "within": "#ff0000"},
                     linewidth=0.9, legend=False, errorbar=None, sort=False, ax=ax)
        ax.set_xlabel("")
        ax.set_ylabel("")

        ax.set_xlim(1000, 20000)
        ax.set_xticks(x_ticks)
        ax.xaxis.set_major_formatter(mticker.FuncFormatter(x_label))
        yticks = [t * scale for t in yt]
        ax.set_ylim(yticks[0], yticks[-1])
        ax.set_yticks(yticks)
        if power != 0:
            fmt = TrimmedFormatter(useMathText=True, useOffset=False)
            fmt.set_powerlimits((0, 0))
        else:
            fmt = TrimmedFormatter(useOffset=False)
            fmt.set_scientific(False)
        ax.yaxis.set_major_formatter(fmt)
        ax.yaxis.get_offset_text().set_fontsize(10)
        ax.yaxis.get_offset_text().set_color(INK)

        for side in ax.spines.values():
            side.set_visible(True)
            side.set_color(INK)
            side.set_linewidth(0.6)
        ax.tick_params(axis="both", which="major", direction="in", length=2, width=0.6,
                       labelsize=9, bottom=True, left=True, top=True, right=True,
                       labeltop=False, labelright=False)
        ax.tick_params(axis="x", pad=8)
        ax.tick_params(axis="y", pad=3)

        # fixed title height: the exponent label sits underneath, as in the source figure
        ax.set_title(title, fontsize=10, fontweight="bold", color="black", pad=4, y=1.0)
        ax.annotate(r"$\times\mathdefault{10^{4}}$", xy=(1, 0), xycoords="axes fraction",
                    xytext=(0, -46), textcoords="offset pixels", ha="right", va="baseline",
                    fontsize=9, color=INK)

fig.savefig("out.png", dpi=100, facecolor="white")
